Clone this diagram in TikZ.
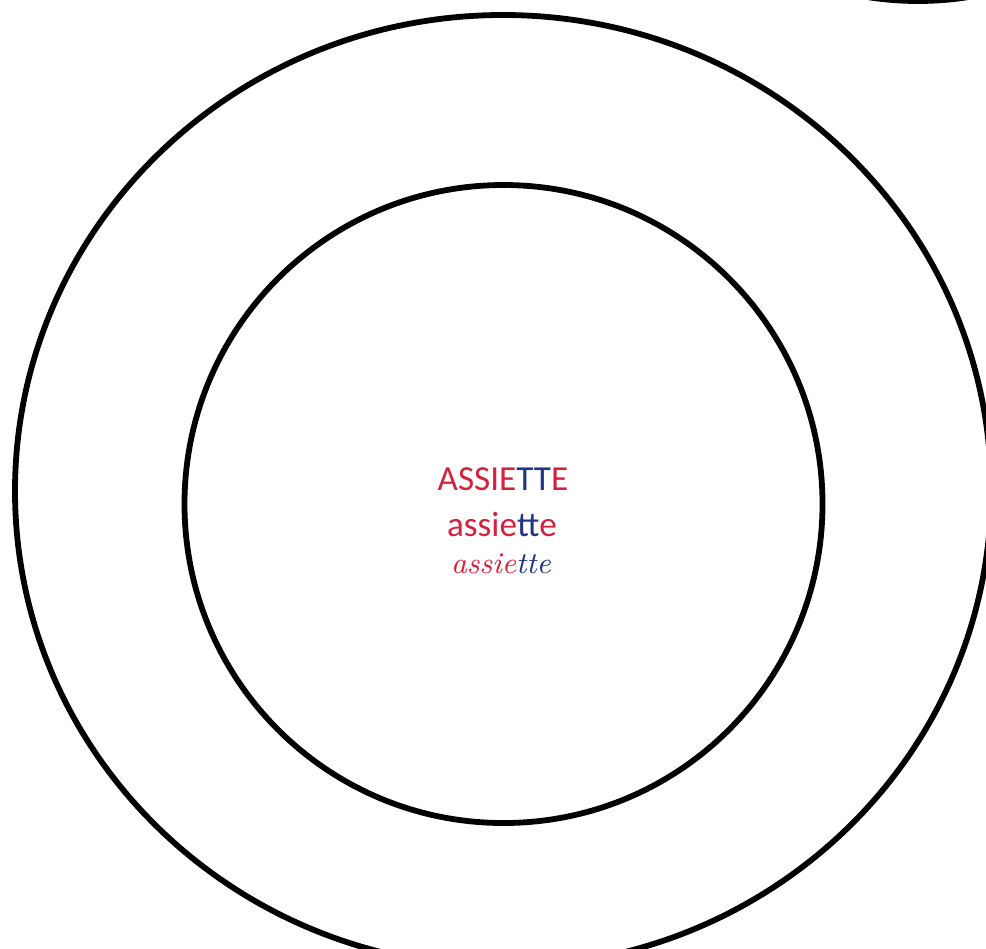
\documentclass[tikz,border=0pt]{standalone}
\usepackage{fontspec}
\newfontfamily\labelfont{Carlito}
\definecolor{wred}{RGB}{208,36,62}
\definecolor{wblue}{RGB}{36,52,128}
\tikzset{
  ring/.style={draw=black, line width=0.058cm},
  word/.style={inner sep=0pt, anchor=base, font=\labelfont\fontsize{10}{12}\selectfont},
  cursiveword/.style={inner sep=0pt, anchor=base, font=\itshape\fontsize{8.6}{10}\selectfont}
}
\begin{document}
\begin{tikzpicture}[x=0.01cm, y=-0.01cm]
  \useasboundingbox (0,0) rectangle (986,948);
  \clip (0,0) rectangle (986,948);
  \fill[white] (0,0) rectangle (986,948);
  % other plate peeking in at top right
  \draw[ring] (918,-320) circle[radius=321];
  % plate rim and well
  \draw[ring] (503,491) ellipse[x radius=488, y radius=476];
  \draw[ring] (503.5,504) circle[radius=319];
  % labels
  \node[word] (caps) at (503,490) {\textcolor{wred}{ASSIE}\textcolor{wblue}{TT}\textcolor{wred}{E}};
  \node[word] (lower) at (502,536) {\textcolor{wred}{assie}\textcolor{wblue}{tt}\textcolor{wred}{e}};
  \node[cursiveword] (cursive) at (501,573) {\textcolor{wred}{assie}\textcolor{wblue}{tte}};
\end{tikzpicture}
\end{document}
